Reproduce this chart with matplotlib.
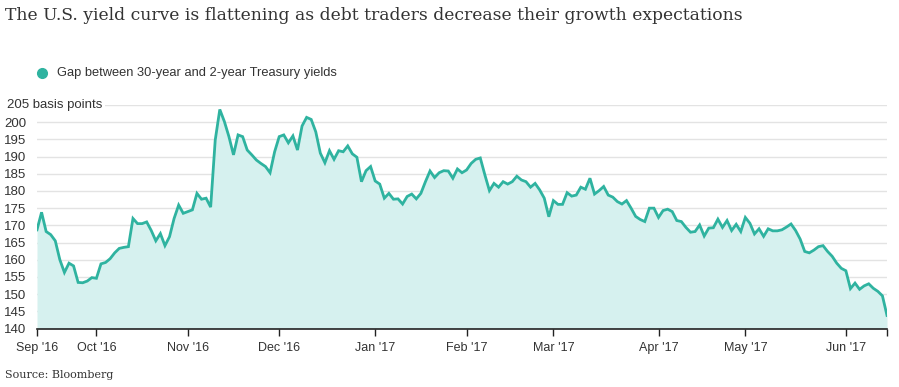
import numpy as np
import pandas as pd
import matplotlib
matplotlib.use('Agg')
import matplotlib.pyplot as plt

# trading days (bond market holidays left out), Sep 14 2016 - Jun 14 2017
holidays = ['2016-10-10', '2016-11-11', '2016-11-24', '2016-12-26', '2017-01-02',
            '2017-01-16', '2017-02-20', '2017-04-14', '2017-05-29']
dates = pd.bdate_range('2016-09-14', '2017-06-14', freq='C', holidays=holidays)

# gap between 30y and 2y Treasury yields, basis points
gap = [168.7, 173.8, 168.2, 167.3, 165.5, 160.0, 156.3, 159.0, 158.2, 153.4,
       153.3, 153.8, 154.8, 154.6, 158.8, 159.2, 160.3, 162.0, 163.3, 163.6,
       163.8, 172.0, 170.5, 170.5, 171.0, 168.5, 165.5, 167.6, 164.1, 166.7,
       172.0, 175.9, 173.5, 174.0, 174.5, 179.3, 177.6, 177.9, 175.3, 194.8,
       203.7, 200.2, 195.8, 190.5, 196.3, 195.8, 191.9, 190.5, 189.0, 188.0,
       187.1, 185.3, 191.4, 195.8, 196.3, 194.0, 196.0, 191.9, 198.9, 201.4,
       200.8, 197.2, 191.0, 188.2, 191.7, 189.2, 191.7, 191.4, 193.1, 190.8,
       189.8, 182.7, 185.9, 187.1, 182.9, 182.0, 177.9, 179.3, 177.6, 177.7,
       176.2, 178.4, 179.1, 177.7, 179.3, 182.7, 185.8, 183.9, 185.3, 185.9,
       185.8, 183.7, 186.4, 185.3, 186.1, 188.0, 189.2, 189.6, 184.7, 180.1,
       182.2, 181.1, 182.7, 182.0, 182.7, 184.3, 183.2, 182.7, 181.1, 182.2,
       180.3, 177.9, 172.5, 177.2, 176.1, 176.1, 179.5, 178.5, 178.8, 181.1,
       180.5, 183.7, 179.1, 180.1, 181.3, 178.8, 178.2, 176.9, 176.2, 177.2,
       175.0, 172.6, 171.7, 171.1, 175.0, 175.0, 172.3, 174.3, 174.7, 174.0,
       171.4, 171.1, 169.4, 168.0, 168.2, 170.1, 166.9, 169.2, 169.3, 171.8,
       169.4, 171.4, 168.5, 170.3, 168.2, 172.3, 170.6, 167.5, 169.0, 166.8,
       169.0, 168.4, 168.4, 168.7, 169.5, 170.4, 168.5, 166.0, 162.4, 162.0,
       162.8, 163.8, 164.1, 162.4, 161.0, 159.0, 157.5, 156.8, 151.6, 153.2,
       151.4, 152.4, 153.0, 151.7, 150.8, 149.5, 143.8]

yticks = list(range(140, 206, 5))
title = 'The U.S. yield curve is flattening as debt traders decrease their growth expectations'
legend_label = 'Gap between 30-year and 2-year Treasury yields'

df = pd.DataFrame({'date': dates, 'gap': gap})
x = np.arange(len(df))

line_col = '#2fb3a0'
fill_col = '#d6f1ef'
text_col = '#333333'

plt.rcParams['font.family'] = ['Liberation Sans', 'DejaVu Sans']

fig = plt.figure(figsize=(8.99, 3.87), dpi=100)
ax = fig.add_axes([37 / 899, 1 - 328.5 / 387, 850 / 899, 223.5 / 387])

ax.fill_between(x, df['gap'], 140, color=fill_col, lw=0)
ax.plot(x, df['gap'], color=line_col, lw=2.0, solid_joinstyle='miter')

ax.set_xlim(0, len(df) - 1)
ax.set_ylim(140, 205)

# month ticks at first trading day of each month, plus one at the end
month = df['date'].dt.to_period('M')
first = df.groupby(month).head(1)
tick_pos = list(first.index) + [len(df) - 1]
tick_lab = [d.strftime("%b '%y") for d in first['date']] + ['']
ax.set_xticks(tick_pos)
ax.set_xticklabels(tick_lab, fontsize=9, color=text_col)
ax.tick_params(axis='x', length=5, width=1, color='#222222', pad=5)

ax.set_yticks(yticks)
ax.set_yticklabels([str(v) if v != 205 else '' for v in yticks], fontsize=9.5, color=text_col)
ax.tick_params(axis='y', length=0, pad=7.5)
ax.grid(axis='y', color='#e3e3e3', lw=1)
ax.set_axisbelow(True)
for s in ['left', 'right', 'top']:
    ax.spines[s].set_visible(False)
ax.spines['bottom'].set_color('#222222')
ax.spines['bottom'].set_linewidth(1.2)

fig.text(7 / 899, 1 - 105 / 387, '205 basis points', fontsize=9.5, color=text_col,
         va='center', ha='left',
         bbox=dict(facecolor='white', edgecolor='none', pad=2))

fig.text(5 / 899, 1 - 16 / 387, title, family=['DejaVu Serif'], fontsize=12.3,
         color=text_col, va='center', ha='left')

fig.lines.append(plt.Line2D([42 / 899], [1 - 73 / 387], transform=fig.transFigure,
                            marker='o', ms=7, color=line_col, lw=0))
fig.text(57 / 899, 1 - 73 / 387, legend_label, fontsize=9.3, color=text_col,
         va='center', ha='left')

fig.text(5 / 899, 1 - 375 / 387, 'Source: Bloomberg', family=['DejaVu Serif'], fontsize=8,
         color=text_col, va='center', ha='left')

fig.savefig('out.png', dpi=100)
